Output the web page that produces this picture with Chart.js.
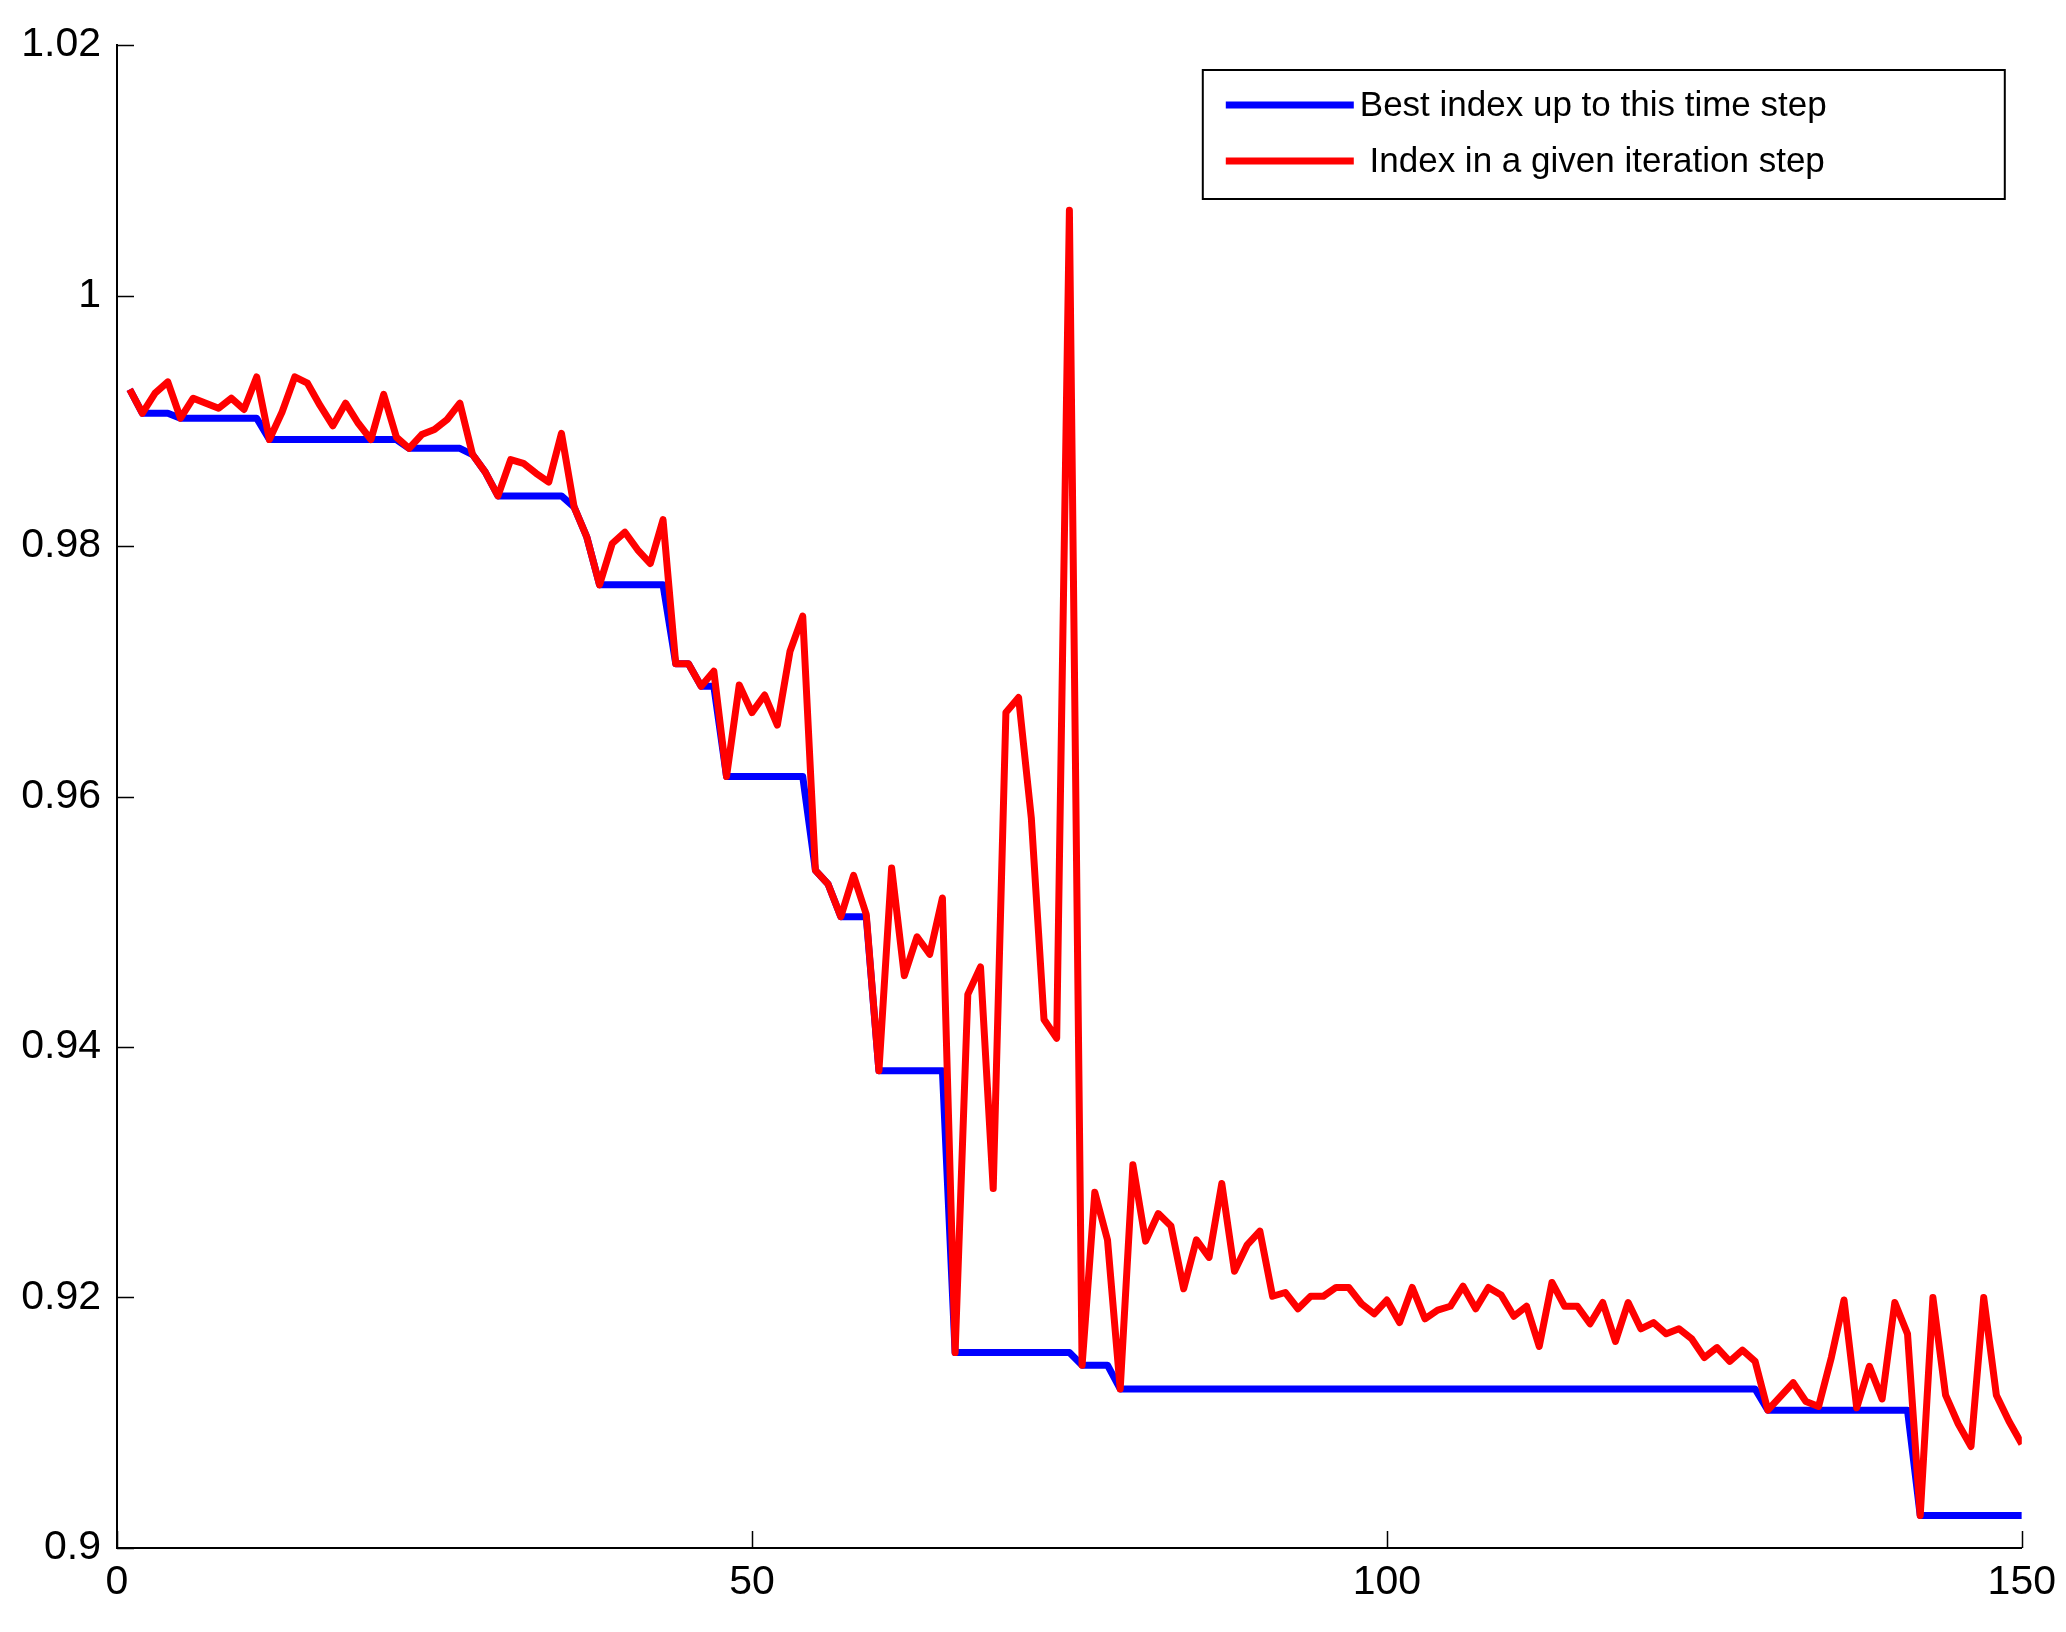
<!DOCTYPE html>
<html>
<head>
<meta charset="utf-8">
<title>Index per iteration step</title>
<script src="https://cdn.jsdelivr.net/npm/chart.js"></script>
<style>
    html, body { margin: 0; padding: 0; background: #ffffff; }
    #wrap { width: 2066px; height: 1632px; }
</style>
</head>
<body>
<div id="wrap"><canvas id="indexChart" width="2066" height="1632"></canvas></div>
<script>
// Index value in each iteration step (steps 1..150)
var indexPerStep = [
    0.9925, 0.9906, 0.9922, 0.9931, 0.9902, 0.9918, 0.9914, 0.9910, 0.9918, 0.9909,
    0.9935, 0.9885, 0.9907, 0.9935, 0.9930, 0.9912, 0.9896, 0.9914, 0.9898, 0.9885,
    0.9921, 0.9887, 0.9878, 0.9889, 0.9893, 0.9901, 0.9914, 0.9873, 0.9859, 0.9840,
    0.9869, 0.9866, 0.9858, 0.9851, 0.9890, 0.9831, 0.9807, 0.9769, 0.9802, 0.9811,
    0.9797, 0.9786, 0.9821, 0.9706, 0.9706, 0.9688, 0.9700, 0.9616, 0.9689, 0.9667,
    0.9681, 0.9657, 0.9716, 0.9744, 0.9541, 0.9530, 0.9504, 0.9537, 0.9506, 0.9381,
    0.9543, 0.9457, 0.9488, 0.9474, 0.9519, 0.9156, 0.9442, 0.9464, 0.9287, 0.9667,
    0.9679, 0.9583, 0.9422, 0.9407, 1.0068, 0.9146, 0.9284, 0.9246, 0.9127, 0.9306,
    0.9245, 0.9267, 0.9257, 0.9207, 0.9246, 0.9232, 0.9291, 0.9221, 0.9242, 0.9253,
    0.9201, 0.9204, 0.9191, 0.9201, 0.9201, 0.9208, 0.9208, 0.9195, 0.9187, 0.9198,
    0.9180, 0.9208, 0.9183, 0.9190, 0.9193, 0.9209, 0.9191, 0.9208, 0.9202, 0.9185,
    0.9193, 0.9161, 0.9212, 0.9193, 0.9193, 0.9179, 0.9196, 0.9165, 0.9196, 0.9175,
    0.9180, 0.9171, 0.9175, 0.9167, 0.9152, 0.9160, 0.9149, 0.9158, 0.9149, 0.9110,
    0.9121, 0.9132, 0.9117, 0.9113, 0.9152, 0.9198, 0.9112, 0.9145, 0.9119, 0.9196,
    0.9171, 0.9026, 0.9200, 0.9122, 0.9099, 0.9081, 0.9200, 0.9122, 0.9101, 0.9083
];

// Best index found up to each step
var bestIndex = [
    0.9925, 0.9906, 0.9906, 0.9906, 0.9902, 0.9902, 0.9902, 0.9902, 0.9902, 0.9902,
    0.9902, 0.9885, 0.9885, 0.9885, 0.9885, 0.9885, 0.9885, 0.9885, 0.9885, 0.9885,
    0.9885, 0.9885, 0.9878, 0.9878, 0.9878, 0.9878, 0.9878, 0.9873, 0.9859, 0.9840,
    0.9840, 0.9840, 0.9840, 0.9840, 0.9840, 0.9831, 0.9807, 0.9769, 0.9769, 0.9769,
    0.9769, 0.9769, 0.9769, 0.9706, 0.9706, 0.9688, 0.9688, 0.9616, 0.9616, 0.9616,
    0.9616, 0.9616, 0.9616, 0.9616, 0.9541, 0.9530, 0.9504, 0.9504, 0.9504, 0.9381,
    0.9381, 0.9381, 0.9381, 0.9381, 0.9381, 0.9156, 0.9156, 0.9156, 0.9156, 0.9156,
    0.9156, 0.9156, 0.9156, 0.9156, 0.9156, 0.9146, 0.9146, 0.9146, 0.9127, 0.9127,
    0.9127, 0.9127, 0.9127, 0.9127, 0.9127, 0.9127, 0.9127, 0.9127, 0.9127, 0.9127,
    0.9127, 0.9127, 0.9127, 0.9127, 0.9127, 0.9127, 0.9127, 0.9127, 0.9127, 0.9127,
    0.9127, 0.9127, 0.9127, 0.9127, 0.9127, 0.9127, 0.9127, 0.9127, 0.9127, 0.9127,
    0.9127, 0.9127, 0.9127, 0.9127, 0.9127, 0.9127, 0.9127, 0.9127, 0.9127, 0.9127,
    0.9127, 0.9127, 0.9127, 0.9127, 0.9127, 0.9127, 0.9127, 0.9127, 0.9127, 0.9110,
    0.9110, 0.9110, 0.9110, 0.9110, 0.9110, 0.9110, 0.9110, 0.9110, 0.9110, 0.9110,
    0.9110, 0.9026, 0.9026, 0.9026, 0.9026, 0.9026, 0.9026, 0.9026, 0.9026, 0.9026
];

var seriesLabels = ['Best index up to this time step', ' Index in a given iteration step'];
var xTickValues = [0, 50, 100, 150];
var yTickValues = [0.9, 0.92, 0.94, 0.96, 0.98, 1, 1.02];
var yTickLabels = ['0.9', '0.92', '0.94', '0.96', '0.98', '1', '1.02'];

// iteration step numbers, one per value
var steps = [];
for (var i = 0; i < indexPerStep.length; i++) {
    steps.push(i + 1);
}

var FONT_FAMILY = "'Liberation Sans', Arial, Helvetica, sans-serif";

// MATLAB style ticks pointing into the plot
var inwardTicks = {
    id: 'inwardTicks',
    afterDraw: function(chart) {
        var ctx = chart.ctx;
        var xScale = chart.scales.x;
        var yScale = chart.scales.y;
        var len = 17;
        ctx.save();
        ctx.strokeStyle = '#000000';
        ctx.lineWidth = 1.5;
        ctx.beginPath();
        for (var i = 0; i < xScale.ticks.length; i++) {
            var px = Math.round(xScale.getPixelForValue(xScale.ticks[i].value)) + 0.5;
            ctx.moveTo(px, yScale.bottom);
            ctx.lineTo(px, yScale.bottom - len);
        }
        for (var j = 0; j < yScale.ticks.length; j++) {
            var py = Math.round(yScale.getPixelForValue(yScale.ticks[j].value)) + 0.5;
            ctx.moveTo(xScale.left, py);
            ctx.lineTo(xScale.left + len, py);
        }
        ctx.stroke();
        ctx.restore();
    }
};

// boxed legend in the upper right corner
var boxedLegend = {
    id: 'boxedLegend',
    afterDraw: function(chart) {
        var ctx = chart.ctx;
        var area = chart.chartArea;
        var boxW = 802;
        var boxH = 129;
        var boxRight = area.right - 17;
        var boxLeft = boxRight - boxW;
        var boxTop = area.top + 25;
        var rows = [35, 91];

        ctx.save();
        ctx.fillStyle = '#ffffff';
        ctx.fillRect(boxLeft, boxTop, boxW, boxH);
        ctx.strokeStyle = '#000000';
        ctx.lineWidth = 2;
        ctx.strokeRect(boxLeft, boxTop, boxW, boxH);

        ctx.font = '35px ' + FONT_FAMILY;
        ctx.textBaseline = 'middle';
        ctx.textAlign = 'left';
        var datasets = chart.data.datasets;
        for (var i = 0; i < datasets.length; i++) {
            var y = boxTop + rows[i];
            ctx.strokeStyle = datasets[i].borderColor;
            ctx.lineWidth = datasets[i].borderWidth;
            ctx.lineCap = 'butt';
            ctx.beginPath();
            ctx.moveTo(boxLeft + 23, y);
            ctx.lineTo(boxLeft + 151, y);
            ctx.stroke();
            ctx.fillStyle = '#000000';
            ctx.fillText(datasets[i].label, boxLeft + 157, y + 1);
        }
        ctx.restore();
    }
};

var ctx = document.getElementById('indexChart');
var indexChart = new Chart(ctx, {
    type: 'line',
    data: {
        labels: steps,
        datasets: [{
            label: seriesLabels[0],
            data: bestIndex,
            borderColor: '#0000ff',
            borderWidth: 7,
            pointRadius: 0,
            tension: 0,
            fill: false,
            borderJoinStyle: 'round',
            order: 2
        }, {
            label: seriesLabels[1],
            data: indexPerStep,
            borderColor: '#ff0000',
            borderWidth: 7,
            pointRadius: 0,
            tension: 0,
            fill: false,
            borderJoinStyle: 'round',
            order: 1
        }]
    },
    options: {
        responsive: false,
        maintainAspectRatio: false,
        animation: false,
        devicePixelRatio: 1,
        layout: {
            padding: { left: 0, right: 44, top: 45, bottom: 0 }
        },
        plugins: {
            legend: { display: false },
            tooltip: { enabled: false }
        },
        scales: {
            x: {
                type: 'linear',
                min: 0,
                max: 150,
                afterBuildTicks: function(scale) {
                    scale.ticks = xTickValues.map(function(v) { return { value: v }; });
                },
                afterFit: function(scale) {
                    scale.height = 84;
                },
                ticks: {
                    autoSkip: false,
                    maxRotation: 0,
                    padding: 10,
                    color: '#000000',
                    font: { family: FONT_FAMILY, size: 41 },
                    callback: function(value) {
                        return String(value);
                    }
                },
                grid: { display: false, drawTicks: false },
                border: { display: true, color: '#000000', width: 2 }
            },
            y: {
                type: 'linear',
                min: 0.9,
                max: 1.02,
                afterBuildTicks: function(scale) {
                    scale.ticks = yTickValues.map(function(v) { return { value: v }; });
                },
                afterFit: function(scale) {
                    scale.width = 117;
                },
                ticks: {
                    autoSkip: false,
                    padding: 16,
                    color: '#000000',
                    font: { family: FONT_FAMILY, size: 41 },
                    callback: function(value) {
                        var k = yTickValues.indexOf(value);
                        return k >= 0 ? yTickLabels[k] : '';
                    }
                },
                grid: { display: false, drawTicks: false },
                border: { display: true, color: '#000000', width: 2 }
            }
        }
    },
    plugins: [inwardTicks, boxedLegend]
});
</script>
</body>
</html>
